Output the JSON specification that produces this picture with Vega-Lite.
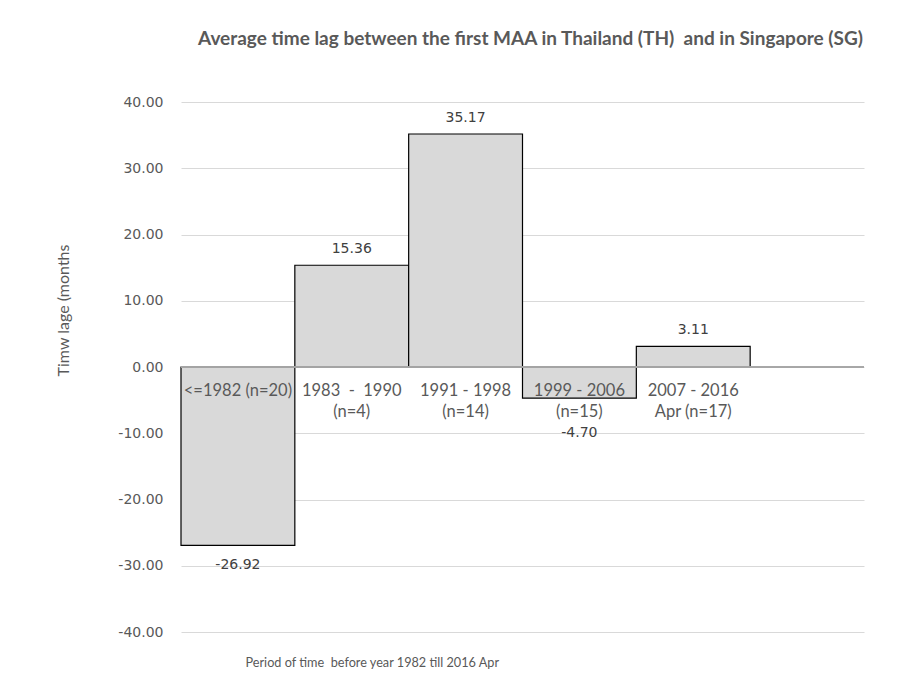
{
  "$schema": "https://vega.github.io/schema/vega-lite/v6.json",
  "autosize": {"type": "none"},
  "padding": {"left": 181, "top": 102, "right": 46, "bottom": 65},
  "width": 683,
  "height": 530,
  "background": "white",
  "config": {
    "view": {"stroke": null},
    "locale": {
      "number": {"decimal": ".", "thousands": ",", "grouping": [3], "currency": ["$", ""], "minus": "-"}
    }
  },
  "title": {
    "text": "Average time lag between the first MAA in Thailand (TH)\u00a0 and in Singapore (SG)",
    "font": "Lato",
    "fontSize": 19,
    "fontWeight": "bold",
    "color": "#595959",
    "anchor": "middle",
    "dx": 8,
    "offset": 46
  },
  "data": {
    "values": [
      {"period": "<=1982", "label": "<=1982 (n=20)", "lag": -26.92},
      {"period": "1983-1990", "label": "1983 \u00a0-\u00a0 1990\n(n=4)", "lag": 15.36},
      {"period": "1991-1998", "label": "1991 - 1998\n(n=14)", "lag": 35.17},
      {"period": "1999-2006", "label": "1999 - 2006\n(n=15)", "lag": -4.70},
      {"period": "2007-2016", "label": "2007 - 2016\nApr (n=17)", "lag": 3.11}
    ]
  },
  "encoding": {
    "x": {
      "field": "period",
      "type": "nominal",
      "scale": {
        "domain": ["<=1982", "1983-1990", "1991-1998", "1999-2006", "2007-2016", "later"],
        "paddingInner": 0,
        "paddingOuter": 0
      },
      "axis": {
        "labels": false,
        "ticks": false,
        "domain": false,
        "title": "Period of time\u00a0 before year 1982 till 2016 Apr",
        "titleFont": "Lato",
        "titleFontSize": 12.7,
        "titleFontWeight": "normal",
        "titleColor": "#595959",
        "titleAnchor": "start",
        "titleAlign": "left",
        "titleBaseline": "middle",
        "titleX": 64,
        "titleY": 30
      }
    },
    "y": {
      "field": "lag",
      "type": "quantitative",
      "scale": {"domain": [-40, 40], "nice": false, "zero": false},
      "axis": {
        "values": [-40, -30, -20, -10, 0, 10, 20, 30, 40],
        "format": ".2f",
        "labelFont": "DejaVu Sans",
        "labelFontSize": 14,
        "labelColor": "#595959",
        "labelPadding": 18,
        "ticks": false,
        "domain": false,
        "grid": true,
        "gridColor": "#d9d9d9",
        "gridWidth": 1,
        "title": "Timw lage (months",
        "titleFont": "Lato",
        "titleFontSize": 16,
        "titleFontWeight": "normal",
        "titleColor": "#595959",
        "titleAlign": "center",
        "titleBaseline": "middle",
        "titleAngle": -90,
        "titleX": -118,
        "titleY": 208
      }
    }
  },
  "layer": [
    {
      "mark": {"type": "bar", "fill": "#d9d9d9", "stroke": "#000000", "strokeWidth": 1.2}
    },
    {
      "mark": {"type": "rule", "color": "#a6a6a6", "strokeWidth": 1.2},
      "encoding": {"x": {"value": 0}, "x2": {"value": 683}, "y": {"datum": 0}}
    },
    {
      "transform": [{"filter": "datum.lag > 0"}],
      "mark": {"type": "text", "font": "DejaVu Sans", "fontSize": 14, "color": "#404040", "baseline": "middle", "dy": -16},
      "encoding": {"text": {"field": "lag", "type": "quantitative", "format": ".2f"}}
    },
    {
      "transform": [{"filter": "datum.lag < -10"}],
      "mark": {"type": "text", "font": "DejaVu Sans", "fontSize": 14, "color": "#404040", "baseline": "middle", "dy": 20},
      "encoding": {"text": {"field": "lag", "type": "quantitative", "format": ".2f"}}
    },
    {
      "transform": [{"filter": "datum.lag < 0 && datum.lag > -10"}],
      "mark": {"type": "text", "font": "DejaVu Sans", "fontSize": 14, "color": "#404040", "baseline": "middle", "dy": 35},
      "encoding": {"text": {"field": "lag", "type": "quantitative", "format": ".2f"}}
    },
    {
      "mark": {"type": "text", "font": "Lato", "fontSize": 16.5, "color": "#595959", "baseline": "alphabetic", "lineBreak": "\n", "lineHeight": 21, "dy": 29},
      "encoding": {"y": {"datum": 0}, "text": {"field": "label"}}
    }
  ]
}
